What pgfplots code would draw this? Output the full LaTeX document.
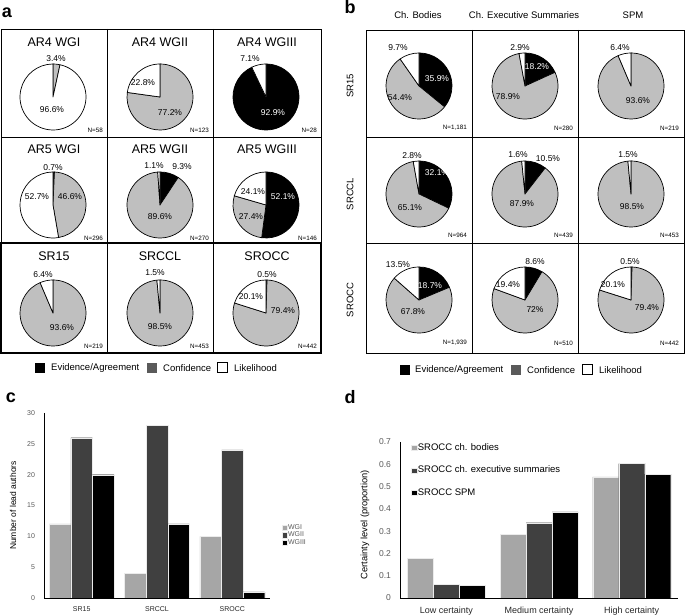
\documentclass[border=0pt]{standalone}
\usepackage{pgfplots}
\pgfplotsset{compat=1.18}
\usepackage{fontspec}
\setmainfont{Liberation Sans}
\definecolor{pgrey}{HTML}{BFBFBF}
\definecolor{cgrey}{HTML}{5A5A5A}
\definecolor{lgrey}{HTML}{A6A6A6}
\definecolor{dgrey}{HTML}{404040}
\definecolor{tickgrey}{HTML}{595959}
\newcommand\fs[1]{\fontsize{#1}{#1}\selectfont}
\def\pr{33pt}
\tikzset{pieline/.style={draw=black,line width=0.7pt,line join=round}}
% pie: centre x, centre y, Evidence, Confidence, Likelihood (percent), clockwise from 12 o'clock
\newcommand\pie[5]{%
 \filldraw[fill=black,pieline] (#1,#2) -- ++(90:\pr) arc[start angle=90,end angle={90-3.6*(#3)},radius=\pr] -- cycle;
 \filldraw[fill=pgrey,pieline] (#1,#2) -- ++({90-3.6*(#3)}:\pr) arc[start angle={90-3.6*(#3)},end angle={90-3.6*((#3)+(#4))},radius=\pr] -- cycle;
 \filldraw[fill=white,pieline] (#1,#2) -- ++({90-3.6*((#3)+(#4))}:\pr) arc[start angle={90-3.6*((#3)+(#4))},end angle=-270,radius=\pr] -- cycle;
}
\newcommand\pl[3]{\node[font=\fs{8.5},inner sep=0pt] at (#1,#2) {#3};}
\newcommand\plw[3]{\node[font=\fs{8.5},inner sep=0pt,text=white] at (#1,#2) {#3};}
\newcommand\nl[3]{\node[font=\fs{6.3},inner sep=0pt,anchor=east] at (#1,#2) {#3};}
\pgfplotsset{sqlegend/.style={legend image code/.code={\fill[##1] (0pt,-2.6pt) rectangle (5.2pt,2.6pt);}}}
\begin{document}
\begin{tikzpicture}[x=1pt,y=1pt]
\begin{axis}[at={(0,0)},anchor=south west,scale only axis,width=685pt,height=615pt,
  xmin=0,xmax=685,ymin=0,ymax=615,hide axis,clip=false]
% ---------------- panel a ----------------
\node[font=\fs{18}\bfseries,inner sep=0pt] at (7,602) {a};
\draw[line width=0.9pt] (1,586) rectangle (321,262);
\draw[line width=0.8pt] (107,586) -- (107,262) (213,586) -- (213,262) (1,478) -- (321,478);
\draw[line width=2pt] (1,372) rectangle (321,262);
\node[font=\fs{12.5},inner sep=0pt] at (54,573) {AR4 WGI};
\node[font=\fs{12.5},inner sep=0pt] at (160,573) {AR4 WGII};
\node[font=\fs{12.5},inner sep=0pt] at (267,573) {AR4 WGIII};
\node[font=\fs{12.5},inner sep=0pt] at (54,466) {AR5 WGI};
\node[font=\fs{12.5},inner sep=0pt] at (160,466) {AR5 WGII};
\node[font=\fs{12.5},inner sep=0pt] at (267,466) {AR5 WGIII};
\node[font=\fs{12.5},inner sep=0pt] at (54,359) {SR15};
\node[font=\fs{12.5},inner sep=0pt] at (160,359) {SRCCL};
\node[font=\fs{12.5},inner sep=0pt] at (267,359) {SROCC};
% pies a
\pie{53}{518}{0}{3.4}{96.6}
\pie{160}{518}{0}{77.2}{22.8}
\pie{266}{518}{92.9}{0}{7.1}
\pie{53}{410}{0.7}{46.6}{52.7}
\pie{160}{410}{9.3}{89.6}{1.1}
\pie{266}{410}{52.1}{27.4}{24.1}
\pie{53}{302}{0}{93.6}{6.4}
\pie{160}{302}{0}{98.5}{1.5}
\pie{266}{302}{0.5}{79.4}{20.1}
% labels a
\pl{56}{556}{3.4\%} \pl{52}{505}{96.6\%}
\pl{143}{532}{22.8\%} \pl{170}{502}{77.2\%}
\pl{250}{556}{7.1\%} \plw{273}{502}{92.9\%}
\pl{53}{447}{0.7\%} \pl{37}{418}{52.7\%} \pl{70}{418}{46.6\%}
\pl{154}{449}{1.1\%} \pl{182}{448}{9.3\%} \pl{160}{398}{89.6\%}
\pl{253}{423}{24.1\%} \pl{251}{398}{27.4\%} \plw{283}{418}{52.1\%}
\pl{43}{340}{6.4\%} \pl{62}{287}{93.6\%}
\pl{155}{342}{1.5\%} \pl{160}{288}{98.5\%}
\pl{267}{340}{0.5\%} \pl{251}{318}{20.1\%} \pl{283}{304}{79.4\%}
\nl{103}{485}{N=58} \nl{209}{485}{N=123} \nl{317}{485}{N=28}
\nl{103}{377}{N=296} \nl{209}{377}{N=270} \nl{317}{377}{N=146}
\nl{103}{269}{N=219} \nl{209}{269}{N=453} \nl{317}{269}{N=442}
% legend a
\fill[black] (35,242) rectangle (45,252);
\node[font=\fs{9.5},anchor=west,inner sep=0pt] at (51,247) {Evidence/Agreement};
\fill[cgrey] (147,242) rectangle (157,252);
\node[font=\fs{9.5},anchor=west,inner sep=0pt] at (163,247) {Confidence};
\draw[line width=0.6pt,fill=white] (217.5,242.5) rectangle (227.5,252.5);
\node[font=\fs{9.5},anchor=west,inner sep=0pt] at (234,247) {Likelihood};
% ---------------- panel b ----------------
\node[font=\fs{18}\bfseries,inner sep=0pt] at (350,608) {b};
\node[font=\fs{9.5},inner sep=0pt] at (418,600) {Ch. Bodies};
\node[font=\fs{9.5},inner sep=0pt] at (524,600) {Ch. Executive Summaries};
\node[font=\fs{9.5},inner sep=0pt] at (633,600) {SPM};
\node[font=\fs{9.5},inner sep=0pt,rotate=90] at (350,529) {SR15};
\node[font=\fs{9.5},inner sep=0pt,rotate=90] at (350,421) {SRCCL};
\node[font=\fs{9.5},inner sep=0pt,rotate=90] at (350,315) {SROCC};
\draw[line width=0.8pt] (366,585) rectangle (684,262);
\draw[line width=0.8pt] (472,585) -- (472,262) (578,585) -- (578,262) (366,478) -- (684,478) (366,372) -- (684,372);
\pie{419}{529}{35.9}{54.4}{9.7}
\pie{525}{529}{18.2}{78.9}{2.9}
\pie{631}{529}{0}{93.6}{6.4}
\pie{419}{421}{32.1}{65.1}{2.8}
\pie{525}{421}{10.5}{87.9}{1.6}
\pie{631}{421}{0}{98.5}{1.5}
\pie{419}{315}{18.7}{67.8}{13.5}
\pie{525}{315}{8.6}{72}{19.4}
\pie{631}{315}{0.5}{79.4}{20.1}
\pl{398}{567}{9.7\%} \plw{437}{536}{35.9\%} \pl{400}{517}{54.4\%}
\pl{520}{567}{2.9\%} \plw{537}{548}{18.2\%} \pl{508}{518}{78.9\%}
\pl{620}{567}{6.4\%} \pl{638}{514}{93.6\%}
\pl{412}{459}{2.8\%} \plw{437}{442}{32.1\%} \pl{410}{407}{65.1\%}
\pl{518}{460}{1.6\%} \pl{548}{456}{10.5\%} \pl{522}{411}{87.9\%}
\pl{628}{460}{1.5\%} \pl{632}{408}{98.5\%}
\pl{398}{350}{13.5\%} \plw{430}{329}{18.7\%} \pl{413}{303}{67.8\%}
\pl{535}{353}{8.6\%} \pl{508}{330}{19.4\%} \pl{535}{305}{72\%}
\pl{630}{353}{0.5\%} \pl{613}{330}{20.1\%} \pl{647}{307}{79.4\%}
\nl{467}{487}{N=1,181} \nl{573}{487}{N=280} \nl{679}{487}{N=219}
\nl{467}{380}{N=964} \nl{573}{380}{N=439} \nl{679}{380}{N=453}
\nl{467}{272}{N=1,939} \nl{573}{272}{N=510} \nl{679}{272}{N=442}
% legend b
\fill[black] (400,240) rectangle (410,250);
\node[font=\fs{9.5},anchor=west,inner sep=0pt] at (415,245) {Evidence/Agreement};
\fill[cgrey] (511,240) rectangle (521,250);
\node[font=\fs{9.5},anchor=west,inner sep=0pt] at (527,245) {Confidence};
\draw[line width=0.6pt,fill=white] (582.5,240.5) rectangle (592.5,250.5);
\node[font=\fs{9.5},anchor=west,inner sep=0pt] at (599,245) {Likelihood};
% panel labels c d
\node[font=\fs{18}\bfseries,inner sep=0pt] at (11,217) {c};
\node[font=\fs{18}\bfseries,inner sep=0pt] at (350,218) {d};
\end{axis}
% ---------------- panel c ----------------
\begin{axis}[at={(44pt,17pt)},anchor=south west,scale only axis,width=226pt,height=185pt,
  ymin=0,ymax=30,xmin=-0.5,xmax=2.5,
  ybar=0pt,bar width=21.6pt,
  axis line style={draw=none},
  xtick={0,1,2},xticklabels={SR15,SRCCL,SROCC},ytick={0,5,10,15,20,25,30},
  major tick length=0pt,xtick pos=left,ytick pos=left,
  /pgf/number format/assume math mode=true,
  tick label style={font=\fs{7},text=tickgrey},
  yticklabel style={xshift=-5.5pt},
  xticklabel style={inner sep=0pt,anchor=north,yshift=-8pt,text=black!85},
  ylabel={Number of lead authors},
  ylabel style={font=\fs{8.5},at={(axis description cs:-0.137,0.5)},anchor=center},
  legend style={at={(1.05,0.34)},anchor=west,draw=none,fill=none,font=\fs{7},text=tickgrey,
    row sep=-0.7pt,inner sep=0pt,nodes={inner sep=1pt}},
  legend cell align=left,
]
\addplot[fill=lgrey,draw=white!92!black,line width=0.3pt,sqlegend] coordinates {(0,12) (1,4) (2,10)};
\addplot[fill=dgrey,draw=white!92!black,line width=0.3pt,sqlegend] coordinates {(0,26) (1,28) (2,24)};
\addplot[fill=black,draw=white!92!black,line width=0.3pt,sqlegend] coordinates {(0,20) (1,12) (2,1)};
\legend{WGI,WGII,WGIII}
\end{axis}
% ---------------- panel d ----------------
\begin{axis}[at={(400pt,17pt)},anchor=south west,scale only axis,width=278pt,height=156pt,
  ymin=0,ymax=0.7,xmin=-0.5,xmax=2.5,
  ybar=0pt,bar width=26pt,
  axis line style={draw=none},
  xtick={0,1,2},xticklabels={Low certainty,Medium certainty,High certainty},
  ytick={0,0.1,0.2,0.3,0.4,0.5,0.6,0.7},
  major tick length=0pt,xtick pos=left,ytick pos=left,
  /pgf/number format/assume math mode=true,
  yticklabel style={/pgf/number format/fixed,/pgf/number format/precision=1,xshift=-5.5pt,font=\fs{8.5},text=tickgrey},
  xticklabel style={font=\fs{9},text=black!85,inner sep=0pt,anchor=north,yshift=-8.5pt},
  ylabel={Certainty level (proportion)},
  ylabel style={font=\fs{9.3},at={(axis description cs:-0.126,0.47)},anchor=center},
  legend style={at={(0.04,1.0)},anchor=north west,draw=none,fill=none,font=\fs{9.5},
    row sep=12.5pt,inner sep=0pt,nodes={inner sep=1pt}},
  legend cell align=left,
]
\addplot[fill=lgrey,draw=white!92!black,line width=0.3pt,sqlegend] coordinates {(0,0.179) (1,0.287) (2,0.544)};
\addplot[fill=dgrey,draw=white!92!black,line width=0.3pt,sqlegend] coordinates {(0,0.060) (1,0.338) (2,0.603)};
\addplot[fill=black,draw=white!92!black,line width=0.3pt,sqlegend] coordinates {(0,0.057) (1,0.386) (2,0.556)};
\legend{SROCC ch. bodies,SROCC ch. executive summaries,SROCC SPM}
\end{axis}
% axis lines (left and bottom) of panels c and d
\draw[draw=black,line width=0.8pt] (44,202) -- (44,17) -- (270,17);
\draw[draw=black,line width=0.8pt] (400,173) -- (400,17) -- (678,17);
\pgfresetboundingbox
\useasboundingbox (0,0) rectangle (685,615);
\end{tikzpicture}
\end{document}
